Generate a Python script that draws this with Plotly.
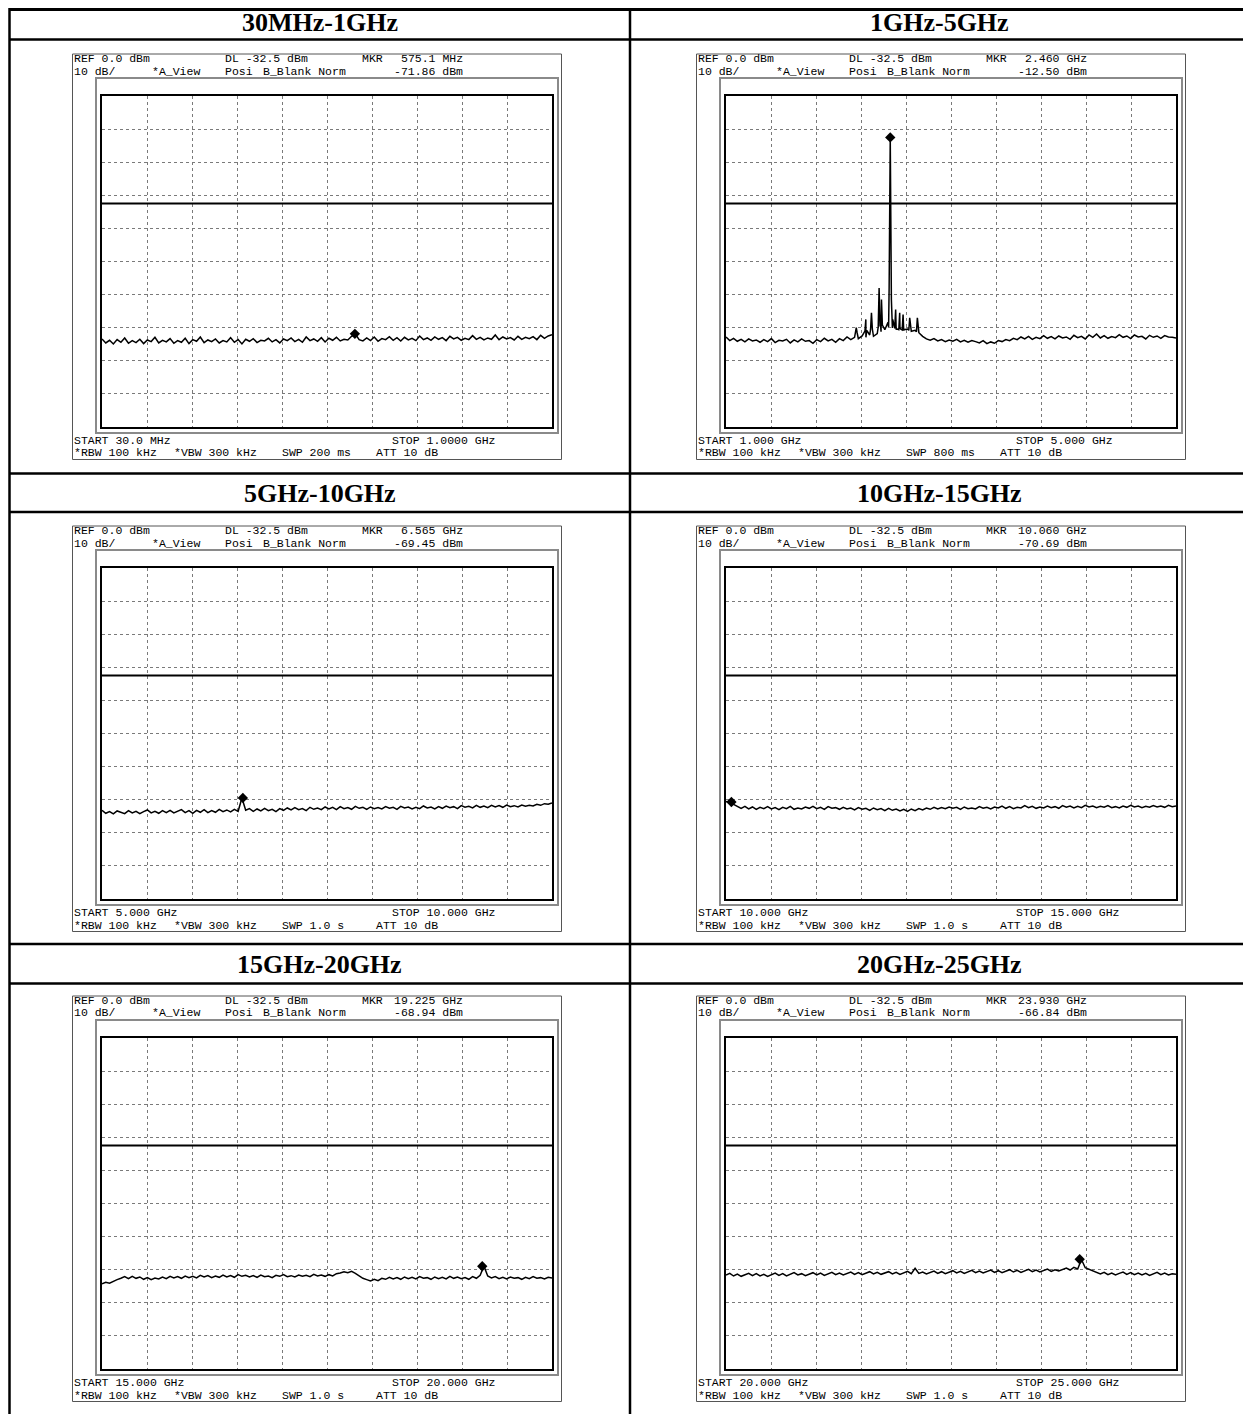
import numpy as np
import plotly.graph_objects as go

W_PX, H_PX = 1251, 1414
PAGE_OFFSET = 8  # browser body margin around the figure div

TITLES = ["30MHz-1GHz", "1GHz-5GHz", "5GHz-10GHz", "10GHz-15GHz", "15GHz-20GHz", "20GHz-25GHz"]
START_GHZ = [0.03, 1.0, 5.0, 10.0, 15.0, 20.0]
STOP_GHZ = [1.0, 5.0, 10.0, 15.0, 20.0, 25.0]
START_LABEL = ["30.0 MHz", "1.000 GHz", "5.000 GHz", "10.000 GHz", "15.000 GHz", "20.000 GHz"]
STOP_LABEL = ["1.0000 GHz", "5.000 GHz", "10.000 GHz", "15.000 GHz", "20.000 GHz", "25.000 GHz"]
SWEEP = ["200 ms", "800 ms", "1.0 s", "1.0 s", "1.0 s", "1.0 s"]
MKR_GHZ = [0.5751, 2.460, 6.565, 10.060, 19.225, 23.930]
MKR_DBM = [-71.86, -12.50, -69.45, -70.69, -68.94, -66.84]
MKR_LABEL = ["575.1 MHz", "2.460 GHz", "6.565 GHz", "10.060 GHz", "19.225 GHz", "23.930 GHz"]
REF_DBM = 0.0
DL_DBM = -32.5
DB_PER_DIV = 10

# sweep traces (dBm, evenly spaced from start to stop)
TRACE_30M_1G = [
    -73.4, -74.6, -73.8, -74.9, -73.6, -74.4, -73.1, -74.7, -73.9, -74.5,
    -73.5, -74.8, -73.7, -74.2, -72.9, -74.6, -73.8, -74.3, -73.3, -74.7,
    -73.9, -74.4, -73.2, -74.8, -73.6, -74.1, -72.8, -74.5, -73.7, -74.2,
    -73.4, -74.6, -73.9, -74.3, -73.0, -74.4, -73.6, -74.9, -73.5, -74.1,
    -73.3, -74.5, -73.8, -74.0, -73.2, -74.3, -73.6, -74.6, -73.4, -73.9,
    -73.1, -74.2, -73.5, -74.4, -72.8, -73.9, -73.4, -74.1, -73.0, -74.3,
    -73.2, -73.8, -72.9, -74.0, -73.5, -73.7, -72.6, -71.9, -73.6, -74.0,
    -73.1, -73.9, -72.8, -74.1, -73.3, -73.6, -72.7, -73.8, -73.0, -74.0,
    -72.9, -73.7, -73.2, -73.9, -72.5, -73.6, -73.1, -73.8, -72.8, -73.5,
    -73.0, -73.9, -72.6, -73.4, -72.9, -73.8, -73.2, -73.6, -72.4, -73.5,
    -72.9, -73.7, -73.1, -73.5, -72.2, -73.6, -72.8, -73.4, -73.0, -73.7,
    -72.6, -73.5, -72.9, -73.3, -72.7, -73.6, -72.3, -73.2, -72.5, -72.1,
]
TRACE_1G_5G = [
    -72.8, -73.9, -73.2, -74.1, -73.5, -74.3, -73.4, -74.0, -73.7, -74.4,
    -73.6, -74.2, -73.3, -74.5, -73.8, -74.0, -73.5, -74.6, -73.7, -74.3,
    -73.4, -74.1, -73.9, -74.7, -73.6, -74.2, -73.2, -74.0, -73.5, -74.4,
    -73.3, -73.9, -72.8, -73.6, -72.9, -73.3, -72.5, -72.9, -72.2, -72.6,
    -71.8, -71.2, -70.6, -69.8, -70.1, -70.6, -70.0, -70.9, -70.4, -71.1,
    -70.8, -71.5, -72.6, -73.4, -73.8, -73.3, -74.0, -73.6, -74.2, -73.7,
    -74.1, -73.5, -74.3, -73.8, -74.4, -73.9, -74.2, -74.6, -73.9, -74.8,
    -74.3, -74.7, -73.9, -74.2, -73.6, -73.9, -73.2, -73.6, -72.8, -73.4,
    -72.6, -73.5, -72.9, -73.3, -72.4, -73.2, -72.7, -73.4, -72.5, -73.1,
    -72.8, -73.5, -72.3, -73.0, -72.6, -73.4, -72.2, -72.9, -71.9, -73.1,
    -72.4, -73.2, -72.7, -73.0, -72.1, -72.9, -72.5, -73.3, -72.2, -72.8,
    -72.6, -73.4, -72.3, -72.9, -72.5, -73.2, -72.4, -72.8, -72.9, -73.1,
]
# spurs around the carrier in the 1-5 GHz sweep
SPUR_GHZ = [2.150, 2.158, 2.166, 2.235, 2.243, 2.251, 2.285, 2.293, 2.301,
            2.353, 2.361, 2.369, 2.374, 2.382, 2.390, 2.440, 2.450, 2.460,
            2.470, 2.482, 2.500, 2.508, 2.516, 2.536, 2.544, 2.552, 2.566,
            2.574, 2.582, 2.625, 2.633, 2.641, 2.693, 2.701, 2.709]
SPUR_DBM = [-71.8, -70.0, -71.6, -71.0, -67.5, -70.8, -70.6, -65.5, -70.4,
            -69.8, -58.0, -69.6, -69.4, -61.5, -69.2, -68.4, -58.0, -12.5,
            -61.5, -67.5, -70.2, -64.5, -70.3, -70.6, -65.5, -70.4, -70.7,
            -66.0, -70.6, -70.8, -67.0, -70.9, -71.2, -67.0, -71.4]
TRACE_5G_10G = [
    -73.2, -74.1, -73.6, -74.3, -73.4, -73.9, -74.2, -73.3, -74.0, -73.5,
    -74.2, -73.6, -73.1, -74.0, -73.5, -74.1, -73.3, -73.9, -73.2, -74.0,
    -73.4, -73.0, -73.9, -73.3, -74.1, -73.2, -73.8, -73.0, -73.9, -73.3,
    -73.8, -72.9, -73.6, -73.1, -73.7, -72.9, -73.5, -69.5, -73.2, -72.7,
    -73.5, -72.8, -73.4, -72.6, -73.3, -72.9, -73.6, -72.7, -73.2, -72.5,
    -73.1, -72.4, -73.0, -72.7, -73.3, -72.3, -72.9, -72.5, -73.0, -72.2,
    -72.8, -72.3, -73.0, -72.1, -72.7, -72.4, -72.9, -72.0, -72.6, -72.3,
    -72.9, -72.2, -72.7, -72.4, -72.8, -72.1, -72.6, -72.3, -72.9, -72.0,
    -72.5, -72.2, -72.8, -72.3, -72.7, -71.9, -72.5, -72.2, -72.8, -72.1,
    -72.6, -71.9, -72.4, -72.1, -72.7, -71.8, -72.3, -72.0, -72.5, -71.7,
    -72.3, -71.9, -72.4, -71.7, -72.2, -71.8, -72.3, -71.6, -72.1, -71.8,
    -72.2, -71.6, -72.0, -71.7, -71.9, -71.4, -71.7, -71.2, -71.4, -71.0,
]
TRACE_10G_15G = [
    -70.5, -70.8, -71.4, -72.1, -72.6, -72.0, -72.8, -72.2, -72.9, -72.3,
    -72.7, -72.1, -72.8, -72.4, -73.0, -72.3, -72.7, -72.0, -72.9, -72.5,
    -72.8, -72.2, -72.6, -72.0, -72.7, -72.3, -72.9, -72.1, -72.6, -72.4,
    -72.9, -72.3, -72.8, -72.5, -73.1, -72.4, -72.9, -72.6, -73.2, -72.5,
    -73.0, -72.7, -73.3, -72.6, -73.2, -72.8, -73.4, -72.9, -73.5, -72.8,
    -73.3, -72.7, -73.1, -72.5, -72.9, -72.3, -72.8, -72.4, -72.7, -72.2,
    -72.6, -72.3, -72.9, -72.2, -72.7, -72.5, -72.8, -72.1, -72.6, -72.3,
    -72.8, -72.2, -72.5, -71.9, -72.6, -72.1, -72.7, -72.3, -72.5, -71.8,
    -72.4, -72.0, -72.6, -72.2, -72.5, -71.9, -72.4, -72.1, -72.6, -71.8,
    -72.3, -71.9, -72.5, -72.0, -72.4, -71.7, -72.2, -71.9, -72.4, -72.0,
    -72.3, -71.8, -72.4, -72.1, -72.5, -71.9, -72.3, -71.7, -72.2, -71.9,
    -72.4, -72.0, -72.3, -71.8, -72.2, -71.9, -72.3, -71.7, -72.1, -71.9,
]
TRACE_15G_20G = [
    -74.3, -73.8, -74.1, -73.5, -73.0, -72.6, -72.1, -72.7, -72.0, -72.6,
    -72.2, -72.9, -72.4, -73.0, -72.5, -72.8, -72.2, -72.7, -72.0, -72.5,
    -72.1, -72.6, -71.9, -72.4, -72.0, -72.5, -71.7, -72.2, -71.8, -72.4,
    -71.9, -72.3, -71.6, -72.2, -71.8, -72.3, -71.5, -72.0, -71.7, -72.2,
    -71.8, -72.3, -71.6, -72.1, -71.9, -72.4, -71.7, -72.0, -71.5, -72.1,
    -71.8, -72.2, -71.6, -72.0, -71.7, -72.1, -71.4, -71.9, -71.6, -72.0,
    -71.5, -71.9, -71.2, -71.0, -70.6, -70.9, -70.5, -71.1, -71.8, -72.6,
    -73.0, -73.4, -72.9, -73.3, -72.6, -72.9, -72.3, -72.8, -72.4, -72.9,
    -72.2, -72.7, -72.3, -72.8, -72.1, -72.6, -72.4, -72.9, -72.2, -72.7,
    -72.3, -72.8, -72.0, -72.6, -72.2, -72.7, -72.4, -72.9, -72.1, -72.6,
    -71.7, -68.9, -71.9, -72.5, -72.1, -72.7, -72.3, -72.8, -72.2, -72.6,
    -72.4, -72.9, -72.3, -72.7, -72.1, -72.6, -72.4, -72.8, -72.3, -72.5,
]
TRACE_20G_25G = [
    -71.6, -71.1, -71.9, -71.3, -72.0, -71.5, -71.1, -71.8, -71.2, -71.9,
    -71.4, -72.0, -71.5, -71.0, -71.7, -71.2, -71.9, -71.4, -70.9, -71.6,
    -71.2, -71.8, -71.3, -70.9, -71.6, -71.0, -71.7, -71.2, -70.8, -71.5,
    -71.0, -71.6, -71.1, -70.7, -71.4, -70.9, -71.5, -71.0, -70.6, -71.3,
    -70.8, -71.4, -71.0, -70.6, -71.3, -70.8, -71.4, -70.9, -70.5, -71.2,
    -69.6, -71.1, -70.7, -71.3, -70.8, -70.4, -71.1, -70.6, -71.2, -70.7,
    -70.3, -71.0, -70.5, -71.1, -70.6, -70.2, -70.9, -70.4, -71.0, -70.5,
    -70.1, -70.8, -70.3, -70.9, -70.4, -70.0, -70.7, -70.2, -70.8, -70.3,
    -69.9, -70.6, -70.1, -70.7, -70.2, -69.8, -70.5, -70.0, -70.4, -69.9,
    -69.5, -70.1, -69.3, -69.8, -66.9, -69.4, -69.9, -70.4, -70.9, -71.3,
    -70.8, -71.5, -71.0, -71.6, -71.1, -70.7, -71.4, -70.9, -71.5, -71.0,
    -71.6, -71.1, -71.7, -71.2, -70.8, -71.5, -71.0, -71.6, -71.2, -71.4,
]
TRACES = [TRACE_30M_1G, TRACE_1G_5G, TRACE_5G_10G, TRACE_10G_15G, TRACE_15G_20G, TRACE_20G_25G]

# page geometry (pixels in the browser window)
COL_LEFT = [102, 726]
ROW_TOP = [96, 568, 1038]
BOX_W, BOX_H = 450, 331
COL_LINES = [9.5, 630, 1248.5]
ROW_LINES = [9.5, 39.5, 473.5, 512, 944, 983.5]
TITLE_Y = [23, 493, 964]


def px(x):
    return (x - PAGE_OFFSET) / W_PX


def py(y):
    return 1 - (y - PAGE_OFFSET) / H_PX


fig = go.Figure()
shapes = []
annotations = []
MONO = dict(family="Liberation Mono", size=11.5, color="black")


def text(x, y, s, anchor="left"):
    annotations.append(dict(x=px(x), y=py(y), xref="paper", yref="paper", text=s,
                            showarrow=False, xanchor=anchor, yanchor="middle", font=MONO,
                            borderpad=0))


for i in range(6):
    col, row = i % 2, i // 2
    L, T = COL_LEFT[col], ROW_TOP[row]
    R, B = L + BOX_W, T + BOX_H
    n = i + 1
    xa, ya = ("x", "y") if n == 1 else (f"x{n}", f"y{n}")
    lay_x = "xaxis" if n == 1 else f"xaxis{n}"
    lay_y = "yaxis" if n == 1 else f"yaxis{n}"

    f0, f1 = START_GHZ[i], STOP_GHZ[i]
    lvl = np.array(TRACES[i])
    freq = np.linspace(f0, f1, len(lvl))
    if i == 1:
        freq = np.concatenate([freq, SPUR_GHZ])
        lvl = np.concatenate([lvl, SPUR_DBM])
        order = np.argsort(freq, kind="stable")
        freq, lvl = freq[order], lvl[order]

    fig.add_trace(go.Scatter(x=freq, y=lvl, mode="lines", xaxis=xa, yaxis=ya,
                             line=dict(color="black", width=1.5), hoverinfo="skip"))
    fig.add_trace(go.Scatter(x=[MKR_GHZ[i]], y=[MKR_DBM[i]], mode="markers", xaxis=xa, yaxis=ya,
                             marker=dict(symbol="diamond", size=8, color="black")))

    bottom = REF_DBM - 10 * DB_PER_DIV
    fig.update_layout({
        lay_x: dict(domain=[px(L), px(R)], range=[f0, f1], tick0=f0, dtick=(f1 - f0) / 10,
                    showticklabels=False, ticks="", showgrid=True, gridcolor="#7a7a7a",
                    griddash="dot", gridwidth=1, zeroline=False, showline=True, mirror=True,
                    linecolor="black", linewidth=1.5, anchor=ya, fixedrange=True),
        lay_y: dict(domain=[py(B), py(T)], range=[bottom, REF_DBM], tick0=bottom, dtick=DB_PER_DIV,
                    showticklabels=False, ticks="", showgrid=True, gridcolor="#7a7a7a",
                    griddash="dot", gridwidth=1, zeroline=False, showline=True, mirror=True,
                    linecolor="black", linewidth=1.5, anchor=xa, fixedrange=True),
    })

    # display line
    shapes.append(dict(type="line", xref=f"{xa} domain", yref=ya, x0=0, x1=1, y0=DL_DBM, y1=DL_DBM,
                       line=dict(color="black", width=2)))
    # gray frame and screenshot border
    shapes.append(dict(type="rect", xref="paper", yref="paper", x0=px(L - 6), x1=px(R + 6),
                       y0=py(B + 6), y1=py(T - 18), line=dict(color="#8a8a8a", width=2)))
    shapes.append(dict(type="rect", xref="paper", yref="paper", x0=px(L - 29.5), x1=px(R + 9.5),
                       y0=py(B + 32.5), y1=py(T - 42), line=dict(color="#555555", width=1)))

    x0 = L - 29
    text(x0, T - 38, f"REF {REF_DBM:.1f} dBm")
    text(x0 + 151, T - 38, f"DL {DL_DBM:.1f} dBm")
    text(x0 + 288, T - 38, "MKR")
    text(x0 + 391, T - 38, MKR_LABEL[i], "right")
    text(x0, T - 25, f"{DB_PER_DIV} dB/")
    text(x0 + 78, T - 25, "*A_View")
    text(x0 + 151, T - 25, "Posi")
    text(x0 + 189, T - 25, "B_Blank Norm")
    text(x0 + 391, T - 25, f"{MKR_DBM[i]:.2f} dBm", "right")
    text(x0, B + 13, f"START {START_LABEL[i]}")
    text(x0 + 318, B + 13, f"STOP {STOP_LABEL[i]}")
    text(x0, B + 26, "*RBW 100 kHz")
    text(x0 + 100, B + 26, "*VBW 300 kHz")
    text(x0 + 208, B + 26, f"SWP {SWEEP[i]}")
    text(x0 + 302, B + 26, "ATT 10 dB")

    # cell title
    annotations.append(dict(x=px((COL_LINES[col] + COL_LINES[col + 1]) / 2), y=py(TITLE_Y[row]),
                            xref="paper", yref="paper", text=f"<b>{TITLES[i]}</b>", showarrow=False,
                            xanchor="center", yanchor="middle",
                            font=dict(family="Liberation Serif", size=26, color="black")))

# table rules
for xv in COL_LINES:
    shapes.append(dict(type="line", xref="paper", yref="paper", x0=px(xv), x1=px(xv), y0=0, y1=1,
                       line=dict(color="black", width=2.5)))
for k, yv in enumerate(ROW_LINES):
    shapes.append(dict(type="line", xref="paper", yref="paper", x0=px(COL_LINES[0]),
                       x1=px(COL_LINES[-1]), y0=py(yv), y1=py(yv),
                       line=dict(color="black", width=3 if k == 0 else 2.5)))

fig.update_layout(width=W_PX, height=H_PX, margin=dict(l=0, r=0, t=0, b=0),
                  paper_bgcolor="white", plot_bgcolor="white", showlegend=False,
                  shapes=shapes, annotations=annotations)

fig.write_html("out.html")
